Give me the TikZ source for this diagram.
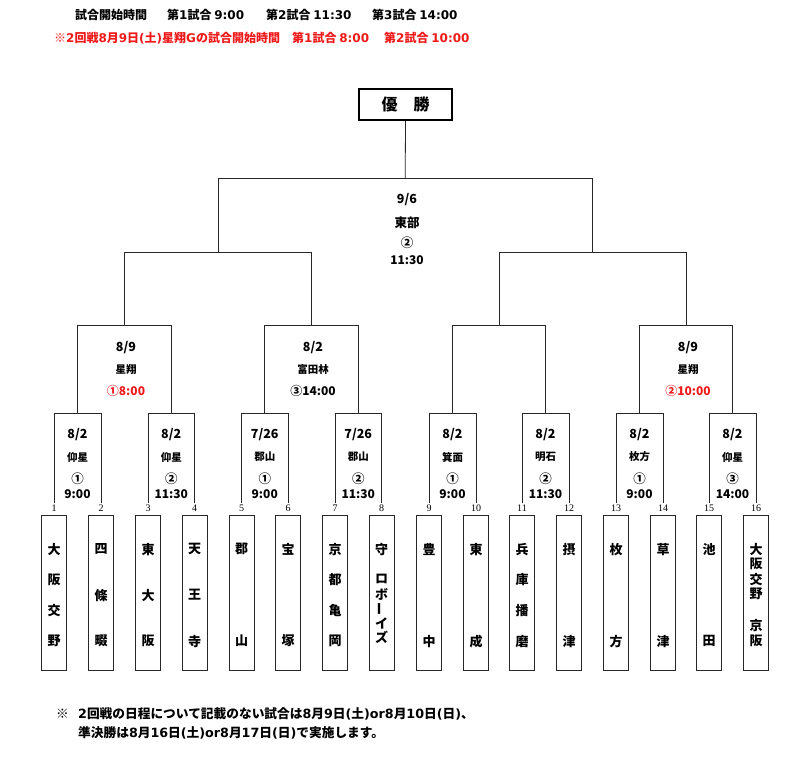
\documentclass[tikz,border=0pt]{standalone}
\usepackage{fontspec}
\setmainfont{Noto Sans CJK JP}
\newfontfamily\serifnum{Liberation Serif}
\newfontfamily\latfont{DejaVu Sans}
\newcommand\lt[1]{{\latfont #1}}
\usetikzlibrary{calc}
\definecolor{redtxt}{RGB}{240,25,25}
\definecolor{lncol}{RGB}{40,40,40}
\tikzset{
  bline/.style={draw=lncol, line width=0.8pt},
  teambox/.style={draw=lncol, line width=0.8pt, minimum width=25pt, minimum height=155pt, inner sep=0pt},
  teamtxt/.style={font=\fontsize{13}{13}\selectfont\bfseries, inner sep=0pt},
  numlbl/.style={font=\serifnum\fontsize{10}{10}\selectfont, inner sep=1.5pt},
  datelbl/.style={font=\fontsize{12.5}{12.5}\selectfont\bfseries, inner sep=0pt},
  venuelbl/.style={font=\fontsize{10.5}{10.5}\selectfont\bfseries, inner sep=0pt},
  circlbl/.style={font=\fontsize{12.5}{12.5}\selectfont\bfseries, inner sep=0pt},
  timelbl/.style={font=\fontsize{12}{12}\selectfont\bfseries, inner sep=0pt},
  headtxt/.style={font=\fontsize{12}{12}\selectfont\bfseries, inner sep=0pt, anchor=west},
  foottxt/.style={font=\fontsize{12.7}{12.7}\selectfont\bfseries, inner sep=0pt, anchor=west},
  champbox/.style={draw=black, line width=2.4pt, minimum width=93pt, minimum height=31pt, inner sep=0pt, font=\fontsize{16}{16}\selectfont\bfseries},
}
\newcommand\teamchars[3]{%
  \foreach[count=\k from 0] \c in {#3}{%
    \node[teamtxt] (#1c\k) at ($(#1.north)+(0,{34+\k*92/(#2-1)})$) {\c};}}
\newcommand\firstlabels[6]{%
  \node[datelbl] (#1d) at (#2,435) {#3};
  \node[venuelbl] (#1v) at (#2,457) {#4};
  \node[circlbl] (#1c) at (#2,479) {#5};
  \node[timelbl] (#1t) at (#2,494) {#6};}
\begin{document}
\begin{tikzpicture}[x=1pt,y=-1pt]
\useasboundingbox (0,0) rectangle (800,764);
\fill[white] (0,0) rectangle (800,764);
% header
\node[headtxt] (h1a) at (75,15) {試合開始時間};
\node[headtxt] (h1b) at (167,15) {第\lt{1}試合 \lt{9:00}};
\node[headtxt] (h1c) at (266,15) {第\lt{2}試合 \lt{11:30}};
\node[headtxt] (h1d) at (372,15) {第\lt{3}試合 \lt{14:00}};
\node[headtxt, text=redtxt] (h2a) at (54,38) {※\lt{2}回戦\lt{8}月\lt{9}日\lt{(}土\lt{)}星翔\lt{G}の試合開始時間};
\node[headtxt, text=redtxt] (h2b) at (292,38) {第\lt{1}試合 \lt{8:00}};
\node[headtxt, text=redtxt] (h2c) at (384,38) {第\lt{2}試合 \lt{10:00}};
% level lines
\coordinate (L1) at (0,413);
\coordinate (L2) at (0,325);
\coordinate (L3) at (0,252);
\coordinate (L4) at (0,178);
% teams
\foreach \i/\x in {1/54,2/101,3/148,4/194.5,5/241.5,6/288,7/335,8/381.5,9/429,10/476,11/522,12/569,13/616,14/663,15/709,16/756}{
  \node[teambox] (t\i) at (\x,593) {};
  \node[numlbl] (n\i) at (\x,508) {\i};
  \coordinate (a\i) at (n\i |- L1);
  \draw[bline] (n\i.north) -- (a\i);
}
\teamchars{t1}{4}{大,阪,交,野}
\teamchars{t2}{3}{四,條,畷}
\teamchars{t3}{3}{東,大,阪}
\teamchars{t4}{3}{天,王,寺}
\teamchars{t5}{2}{郡,山}
\teamchars{t6}{2}{宝,塚}
\teamchars{t7}{4}{京,都,亀,岡}
\node[teamtxt] (t8c0) at ($(t8.north)+(0,34)$) {守};
\node[teamtxt] (t8c1) at ($(t8.north)+(0,64)$) {ロ};
\node[teamtxt] (t8c2) at ($(t8.north)+(0,79)$) {ボ};
\node[teamtxt, rotate=90] (t8c3) at ($(t8.north)+(0,94)$) {ー};
\node[teamtxt] (t8c4) at ($(t8.north)+(0,108)$) {イ};
\node[teamtxt] (t8c5) at ($(t8.north)+(0,122)$) {ズ};
\teamchars{t9}{2}{豊,中}
\teamchars{t10}{2}{東,成}
\teamchars{t11}{4}{兵,庫,播,磨}
\teamchars{t12}{2}{摂,津}
\teamchars{t13}{2}{枚,方}
\teamchars{t14}{2}{草,津}
\teamchars{t15}{2}{池,田}
\node[teamtxt] (t16c0) at ($(t16.north)+(0,34)$) {大};
\node[teamtxt] (t16c1) at ($(t16.north)+(0,49)$) {阪};
\node[teamtxt] (t16c2) at ($(t16.north)+(0,64)$) {交};
\node[teamtxt] (t16c3) at ($(t16.north)+(0,79)$) {野};
\node[teamtxt] (t16c4) at ($(t16.north)+(0,110)$) {京};
\node[teamtxt] (t16c5) at ($(t16.north)+(0,126)$) {阪};
% round 1
\foreach \j/\l/\r in {1/1/2,2/3/4,3/5/6,4/7/8,5/9/10,6/11/12,7/13/14,8/15/16}{
  \draw[bline] (a\l) -- (a\r);
  \coordinate (m\j) at ($(a\l)!0.5!(a\r)$);
  \coordinate (b\j) at (m\j |- L2);
  \draw[bline] (m\j) -- (b\j);
}
% round 2
\foreach \k/\l/\r in {1/1/2,2/3/4,3/5/6,4/7/8}{
  \draw[bline] (b\l) -- (b\r);
  \coordinate (p\k) at ($(b\l)!0.5!(b\r)$);
  \coordinate (c\k) at (p\k |- L3);
  \draw[bline] (p\k) -- (c\k);
}
% semifinals
\foreach \k/\l/\r in {1/1/2,2/3/4}{
  \draw[bline] (c\l) -- (c\r);
  \coordinate (q\k) at ($(c\l)!0.5!(c\r)$);
  \coordinate (d\k) at (q\k |- L4);
  \draw[bline] (q\k) -- (d\k);
}
% final
\node[champbox] (champ) at (405.5,104.5) {優\hspace{1em}勝};
\draw[bline] (d1) -- (d2);
\coordinate (fin) at ($(d1)!0.5!(d2)$);
\draw[bline] (fin) -- (champ.south);
% first round labels
\firstlabels{g1}{77.5}{8/2}{仰星}{①}{9:00}
\firstlabels{g2}{171.25}{8/2}{仰星}{②}{11:30}
\firstlabels{g3}{264.75}{7/26}{郡山}{①}{9:00}
\firstlabels{g4}{358.25}{7/26}{郡山}{②}{11:30}
\firstlabels{g5}{452.5}{8/2}{箕面}{①}{9:00}
\firstlabels{g6}{545.5}{8/2}{明石}{②}{11:30}
\firstlabels{g7}{639.5}{8/2}{枚方}{①}{9:00}
\firstlabels{g8}{732.5}{8/2}{仰星}{③}{14:00}
% second round labels
\node[datelbl] (s1d) at (126,348) {8/9};
\node[venuelbl] (s1v) at (126,369) {星翔};
\node[timelbl, text=redtxt] (s1t) at (126,391) {①8:00};
\node[datelbl] (s2d) at (313,348) {8/2};
\node[venuelbl] (s2v) at (313,369) {富田林};
\node[timelbl] (s2t) at (313,391) {③14:00};
\node[datelbl] (s4d) at (688,348) {8/9};
\node[venuelbl] (s4v) at (688,369) {星翔};
\node[timelbl, text=redtxt] (s4t) at (688,391) {②10:00};
% final labels
\node[datelbl] (fd) at (407,200) {9/6};
\node[datelbl] (fv) at (407,223) {東部};
\node[circlbl] (fc) at (407,243) {②};
\node[timelbl] (ft) at (407,260) {11:30};
% footnote
\node[foottxt] (f0) at (56,714) {※};
\node[foottxt] (f1) at (78,714) {\lt{2}回戦の日程について記載のない試合は\lt{8}月\lt{9}日\lt{(}土\lt{)or8}月\lt{10}日\lt{(}日\lt{)}、};
\node[foottxt] (f2) at (78,733) {準決勝は\lt{8}月\lt{16}日\lt{(}土\lt{)or8}月\lt{17}日\lt{(}日\lt{)}で実施します。};
\end{tikzpicture}
\end{document}
